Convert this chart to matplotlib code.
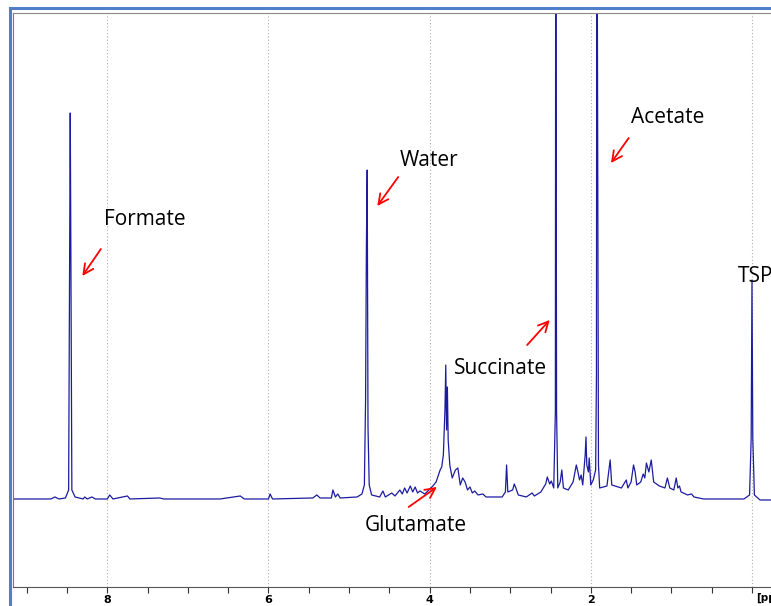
import matplotlib.pyplot as plt
from matplotlib.lines import Line2D
from matplotlib.ticker import MultipleLocator, FixedLocator

# spectrum trace: chemical shift (ppm) and intensity (a.u.)
trace_ppm = [
    9.20, 8.70, 8.65, 8.60, 8.52, 8.48, 8.465, 8.46, 8.455, 8.44, 8.40, 8.30, 8.28, 8.25,
    8.19, 8.15, 8.00, 7.97, 7.93, 7.75, 7.72, 7.35, 7.30, 6.60, 6.35, 6.30, 6.00, 5.98,
    5.95, 5.45, 5.40, 5.36, 5.22, 5.20, 5.17, 5.14, 5.11, 4.90, 4.84, 4.81, 4.795, 4.785,
    4.775, 4.765, 4.75, 4.72, 4.62, 4.58, 4.55, 4.47, 4.43, 4.37, 4.34, 4.31, 4.28, 4.24,
    4.21, 4.18, 4.15, 4.12, 4.06, 3.96, 3.92, 3.87, 3.85, 3.83, 3.81, 3.80, 3.79, 3.78,
    3.77, 3.75, 3.72, 3.68, 3.65, 3.62, 3.59, 3.56, 3.53, 3.50, 3.47, 3.44, 3.40, 3.34,
    3.30, 3.10, 3.06, 3.045, 3.03, 2.97, 2.95, 2.93, 2.90, 2.80, 2.73, 2.70, 2.62, 2.56,
    2.54, 2.51, 2.49, 2.46, 2.44, 2.435, 2.425, 2.41, 2.38, 2.36, 2.34, 2.28, 2.22, 2.18,
    2.16, 2.14, 2.12, 2.10, 2.07, 2.06, 2.05, 2.03, 2.02, 2.00, 1.97, 1.94, 1.93, 1.925,
    1.915, 1.905, 1.89, 1.80, 1.76, 1.74, 1.62, 1.56, 1.54, 1.50, 1.47, 1.45, 1.43, 1.38,
    1.35, 1.33, 1.31, 1.28, 1.25, 1.22, 1.15, 1.08, 1.05, 1.02, 0.97, 0.94, 0.92, 0.90,
    0.88, 0.80, 0.75, 0.72, 0.60, 0.10, 0.03, 0.01, 0.00, -0.01, -0.03, -0.10, -0.30,
]
trace_int = [
    1, 1, 3, 1, 2, 10, 300, 387, 300, 10, 3, 1, 3, 1,
    3, 1, 1, 5, 1, 4, 1, 2, 1, 1, 4, 1, 1, 6,
    1, 2, 5, 2, 2, 10, 3, 6, 2, 3, 6, 15, 100, 253,
    330, 73, 15, 5, 3, 9, 3, 7, 4, 10, 6, 12, 7, 14,
    8, 13, 7, 9, 6, 14, 18, 30, 33, 45, 90, 135, 70, 113,
    60, 35, 22, 30, 32, 15, 22, 18, 10, 13, 7, 9, 5, 6,
    3, 3, 8, 35, 8, 10, 16, 12, 5, 3, 7, 4, 8, 16,
    23, 16, 19, 12, 88, 700, 88, 12, 18, 30, 12, 10, 18, 35,
    28, 20, 25, 15, 45, 63, 35, 28, 42, 15, 20, 30, 125, 700,
    370, 35, 12, 14, 40, 15, 12, 20, 12, 18, 35, 28, 15, 18,
    26, 22, 37, 28, 40, 18, 14, 12, 22, 12, 10, 22, 12, 14,
    8, 5, 6, 3, 1, 1, 5, 62, 220, 62, 5, 0, 0,
]

# annotations: label, text position, arrow tail, arrow head (ppm, intensity)
labels = ['Formate', 'Water', 'Acetate', 'Succinate', 'Glutamate', 'TSP']
label_pos = [(8.04, 281), (4.37, 340), (1.50, 383), (3.70, 131), (4.81, -26), (0.17, 224)]
arrow_tail = [(8.08, 251), (4.39, 323), (1.53, 362), (2.79, 155), (4.26, -7)]
arrow_head = [(8.31, 224), (4.65, 294), (1.75, 337), (2.51, 180), (3.91, 13)]

fig = plt.figure(figsize=(7.71, 6.06), dpi=100)
ax = fig.add_axes([0.0169, 0.0314, 0.9831, 0.9471])

ax.plot(trace_ppm, trace_int, color='#1c1ca0', lw=0.9)

ax.set_xlim(9.17, -0.236)
ax.set_ylim(-87, 487)

ax.xaxis.set_major_locator(FixedLocator([8, 6, 4, 2]))
ax.xaxis.set_minor_locator(MultipleLocator(0.5))
ax.set_yticks([])
ax.tick_params(axis='x', which='both', direction='out', length=4, width=0.8,
               color='#333333', pad=2, labelsize=8)
for t in ax.get_xticklabels():
    t.set_family(['Liberation Sans Narrow', 'DejaVu Sans'])
    t.set_fontweight('bold')
ax.text(-0.05, -93, '[ppm', fontsize=7.5, fontweight='bold', va='top', ha='left',
        family=['Liberation Sans Narrow', 'DejaVu Sans'], clip_on=False)

for g in [8, 6, 4, 2, 0]:
    ax.axvline(g, color='#b0b0b0', lw=0.8, ls=(0, (1, 2)), zorder=0)

ax.spines['right'].set_visible(False)
ax.spines['left'].set_color('#777777')
ax.spines['top'].set_color('#888888')
ax.spines['top'].set_linewidth(0.8)
ax.spines['bottom'].set_color('#555555')

for name, pos in zip(labels, label_pos):
    ax.text(pos[0], pos[1], name, fontsize=15, family=['Open Sans', 'DejaVu Sans'],
            va='center', ha='left', clip_on=False)

for tail, head in zip(arrow_tail, arrow_head):
    ax.annotate('', xy=head, xytext=tail,
                arrowprops=dict(arrowstyle='->', color='red', lw=1.3,
                                mutation_scale=18, shrinkA=0, shrinkB=0))

# outer window border
fig.add_artist(Line2D([0.0135, 0.0135], [0, 0.986], color='#4f7fc8', lw=2.2))
fig.add_artist(Line2D([0.0135, 1.0], [0.986, 0.986], color='#4f7fc8', lw=2.2))

fig.savefig('out.png', dpi=100)
